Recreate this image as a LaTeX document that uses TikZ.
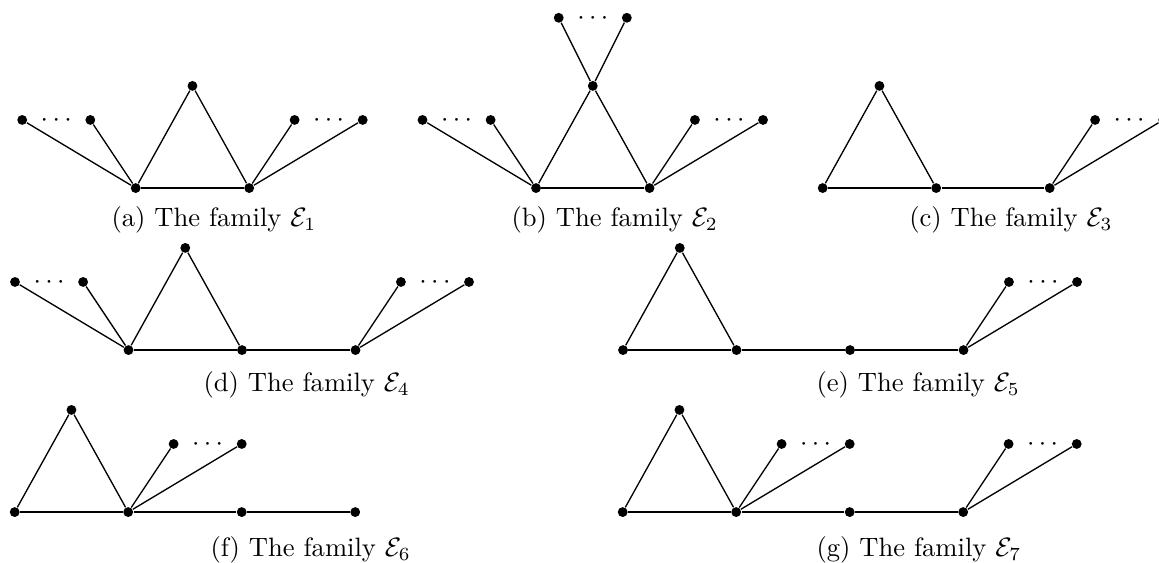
\documentclass[tikz,border=0pt]{standalone}
\usetikzlibrary{calc}
\begin{document}
\tikzset{
  vtx/.style={circle, fill=black, inner sep=0pt, minimum size=3.7pt},
  lnk/.style={line width=0.5pt},
  ell/.style={anchor=base, inner sep=0pt, yshift=-2.5pt},
  captxt/.style={inner sep=0pt},
}
\begin{tikzpicture}[x=1.5cm,y=1.5cm]
\useasboundingbox (0,0) rectangle (10.211,4.952);
% (a)
\begin{scope}[shift={(1.1956,3.2952)}]
  \node[vtx] (a1) at (-1,0.6) {};
  \node[vtx] (a2) at (-0.4,0.6) {};
  \node[vtx] (a3) at (0,0) {};
  \node[vtx] (a4) at (1,0) {};
  \node[vtx] (a5) at (0.5,0.9) {};
  \node[vtx] (a6) at (1.4,0.6) {};
  \node[vtx] (a7) at (2,0.6) {};
  \draw[lnk] (a1) -- (a3);
  \draw[lnk] (a2) -- (a3);
  \draw[lnk] (a3) -- (a4);
  \draw[lnk] (a3) -- (a5);
  \draw[lnk] (a5) -- (a4);
  \draw[lnk] (a4) -- (a6);
  \draw[lnk] (a4) -- (a7);
  \node[ell] (ad1) at ($(a1)!0.5!(a2)$) {$\cdots$};
  \node[ell] (ad2) at ($(a6)!0.5!(a7)$) {$\cdots$};
\end{scope}
% (b)
\begin{scope}[shift={(4.7225,3.2952)}]
  \node[vtx] (b1) at (0.2,1.5) {};
  \node[vtx] (b2) at (0.8,1.5) {};
  \node[vtx] (b3) at (0.5,0.9) {};
  \node[vtx] (b4) at (-1,0.6) {};
  \node[vtx] (b5) at (-0.4,0.6) {};
  \node[vtx] (b6) at (0,0) {};
  \node[vtx] (b7) at (1,0) {};
  \node[vtx] (b8) at (1.4,0.6) {};
  \node[vtx] (b9) at (2,0.6) {};
  \draw[lnk] (b1) -- (b3);
  \draw[lnk] (b2) -- (b3);
  \draw[lnk] (b3) -- (b6);
  \draw[lnk] (b3) -- (b7);
  \draw[lnk] (b6) -- (b7);
  \draw[lnk] (b4) -- (b6);
  \draw[lnk] (b5) -- (b6);
  \draw[lnk] (b7) -- (b8);
  \draw[lnk] (b7) -- (b9);
  \node[ell] (bd1) at ($(b1)!0.5!(b2)$) {$\cdots$};
  \node[ell] (bd2) at ($(b4)!0.5!(b5)$) {$\cdots$};
  \node[ell] (bd3) at ($(b8)!0.5!(b9)$) {$\cdots$};
\end{scope}
% (c)
\begin{scope}[shift={(7.248,3.2952)}]
  \node[vtx] (c1) at (0.5,0.9) {};
  \node[vtx] (c2) at (0,0) {};
  \node[vtx] (c3) at (1,0) {};
  \node[vtx] (c4) at (2,0) {};
  \node[vtx] (c5) at (2.4,0.6) {};
  \node[vtx] (c6) at (3,0.6) {};
  \draw[lnk] (c2) -- (c1);
  \draw[lnk] (c1) -- (c3);
  \draw[lnk] (c2) -- (c3);
  \draw[lnk] (c3) -- (c4);
  \draw[lnk] (c4) -- (c5);
  \draw[lnk] (c4) -- (c6);
  \node[ell] (cd1) at ($(c5)!0.5!(c6)$) {$\cdots$};
\end{scope}
% (d)
\begin{scope}[shift={(1.1322,1.8678)}]
  \node[vtx] (d1) at (-1,0.6) {};
  \node[vtx] (d2) at (-0.4,0.6) {};
  \node[vtx] (d3) at (0,0) {};
  \node[vtx] (d4) at (0.5,0.9) {};
  \node[vtx] (d5) at (1,0) {};
  \node[vtx] (d6) at (2,0) {};
  \node[vtx] (d7) at (2.4,0.6) {};
  \node[vtx] (d8) at (3,0.6) {};
  \draw[lnk] (d1) -- (d3);
  \draw[lnk] (d2) -- (d3);
  \draw[lnk] (d3) -- (d4);
  \draw[lnk] (d4) -- (d5);
  \draw[lnk] (d3) -- (d5);
  \draw[lnk] (d5) -- (d6);
  \draw[lnk] (d6) -- (d7);
  \draw[lnk] (d6) -- (d8);
  \node[ell] (dd1) at ($(d1)!0.5!(d2)$) {$\cdots$};
  \node[ell] (dd2) at ($(d7)!0.5!(d8)$) {$\cdots$};
\end{scope}
% (e)
\begin{scope}[shift={(5.489,1.8678)}]
  \node[vtx] (e1) at (0,0) {};
  \node[vtx] (e2) at (1,0) {};
  \node[vtx] (e0) at (0.5,0.9) {};
  \node[vtx] (e3) at (2,0) {};
  \node[vtx] (e4) at (3,0) {};
  \node[vtx] (e5) at (3.4,0.6) {};
  \node[vtx] (e6) at (4,0.6) {};
  \draw[lnk] (e1) -- (e0);
  \draw[lnk] (e0) -- (e2);
  \draw[lnk] (e1) -- (e2);
  \draw[lnk] (e2) -- (e3);
  \draw[lnk] (e3) -- (e4);
  \draw[lnk] (e4) -- (e5);
  \draw[lnk] (e4) -- (e6);
  \node[ell] (ed1) at ($(e5)!0.5!(e6)$) {$\cdots$};
\end{scope}
% (f)
\begin{scope}[shift={(0.1295,0.4405)}]
  \node[vtx] (f1) at (0,0) {};
  \node[vtx] (f2) at (1,0) {};
  \node[vtx] (f0) at (0.5,0.9) {};
  \node[vtx] (f3) at (2,0) {};
  \node[vtx] (f4) at (3,0) {};
  \node[vtx] (f5) at (1.4,0.6) {};
  \node[vtx] (f6) at (2,0.6) {};
  \draw[lnk] (f1) -- (f0);
  \draw[lnk] (f0) -- (f2);
  \draw[lnk] (f1) -- (f2);
  \draw[lnk] (f2) -- (f3);
  \draw[lnk] (f3) -- (f4);
  \draw[lnk] (f2) -- (f5);
  \draw[lnk] (f2) -- (f6);
  \node[ell] (fd1) at ($(f5)!0.5!(f6)$) {$\cdots$};
\end{scope}
% (g)
\begin{scope}[shift={(5.486,0.4405)}]
  \node[vtx] (g1) at (0,0) {};
  \node[vtx] (g2) at (1,0) {};
  \node[vtx] (g0) at (0.5,0.9) {};
  \node[vtx] (g3) at (2,0) {};
  \node[vtx] (g4) at (3,0) {};
  \node[vtx] (g5) at (1.4,0.6) {};
  \node[vtx] (g6) at (2,0.6) {};
  \node[vtx] (g7) at (3.4,0.6) {};
  \node[vtx] (g8) at (4,0.6) {};
  \draw[lnk] (g1) -- (g0);
  \draw[lnk] (g0) -- (g2);
  \draw[lnk] (g1) -- (g2);
  \draw[lnk] (g2) -- (g3);
  \draw[lnk] (g3) -- (g4);
  \draw[lnk] (g2) -- (g5);
  \draw[lnk] (g2) -- (g6);
  \draw[lnk] (g4) -- (g7);
  \draw[lnk] (g4) -- (g8);
  \node[ell] (gd1) at ($(g5)!0.5!(g6)$) {$\cdots$};
  \node[ell] (gd2) at ($(g7)!0.5!(g8)$) {$\cdots$};
\end{scope}
% captions
\node[captxt, anchor=base west] (capa) at (0.978,2.960) {(a) The family $\mathcal{E}_1$};
\node[captxt, anchor=base west] (capb) at (4.502,2.960) {(b) The family $\mathcal{E}_2$};
\node[captxt, anchor=base east] (capc) at (9.806,2.960) {(c) The family $\mathcal{E}_3$};
\node[captxt, anchor=base west] (capd) at (1.789,1.500) {(d) The family $\mathcal{E}_4$};
\node[captxt, anchor=base west] (cape) at (7.189,1.500) {(e) The family $\mathcal{E}_5$};
\node[captxt, anchor=base west] (capf) at (1.850,0.0467) {(f) The family $\mathcal{E}_6$};
\node[captxt, anchor=base west] (capg) at (7.189,0.0467) {(g) The family $\mathcal{E}_7$};
\end{tikzpicture}
\end{document}
